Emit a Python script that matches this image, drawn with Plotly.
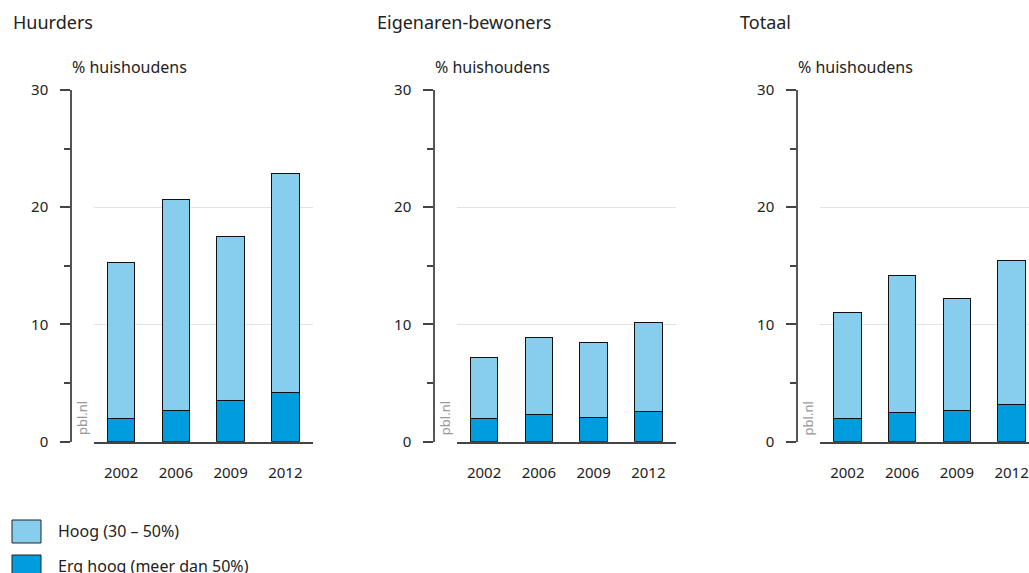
import plotly.graph_objects as go

years = ["2002", "2006", "2009", "2012"]
panels = ["Huurders", "Eigenaren-bewoners", "Totaal"]
# Erg hoog (meer dan 50%)
erg_hoog = {
    "Huurders": [2.0, 2.7, 3.5, 4.2],
    "Eigenaren-bewoners": [2.0, 2.3, 2.1, 2.55],
    "Totaal": [2.0, 2.5, 2.7, 3.2],
}
# Hoog (30 - 50%)
hoog = {
    "Huurders": [13.3, 18.0, 14.0, 18.7],
    "Eigenaren-bewoners": [5.2, 6.55, 6.4, 7.65],
    "Totaal": [9.0, 11.7, 9.55, 12.25],
}
legend_labels = ["Hoog (30 – 50%)", "Erg hoog (meer dan 50%)"]
y_ticks = [0, 10, 20, 30]

LIGHT = "#87CEEE"
DARK = "#009DDE"
FONT = "Noto Sans"

W, H = 1029, 573


def fx(x):
    return x / W


def fy(y):
    return 1 - y / H


fig = go.Figure()

plot_left = [93.7, 456.7, 820.0]
plot_right = [312.7, 675.7, 1029.0]
yaxis_x = [71, 434, 797]
y_bottom_px, y_top_px = 441.7, 90.0
ydom = [fy(y_bottom_px), fy(y_top_px)]
px_per_cat = (plot_right[0] - plot_left[0]) / 4

for i, p in enumerate(panels):
    sfx = "" if i == 0 else str(i + 1)
    fig.add_trace(go.Bar(x=years, y=erg_hoog[p], marker=dict(color=DARK, line=dict(color="#111", width=1)),
                         xaxis="x" + sfx, yaxis="y" + sfx, showlegend=False, name=legend_labels[1]))
    fig.add_trace(go.Bar(x=years, y=hoog[p], marker=dict(color=LIGHT, line=dict(color="#111", width=1)),
                         xaxis="x" + sfx, yaxis="y" + sfx, showlegend=False, name=legend_labels[0]))
    xr = [-0.5, -0.5 + (plot_right[i] - plot_left[i]) / px_per_cat]
    fig.layout["xaxis" + sfx] = dict(
        domain=[fx(plot_left[i]), min(1.0, fx(plot_right[i]))], anchor="y" + sfx, range=xr,
        showline=True, linecolor="#444", linewidth=1.5, ticks="", showgrid=False,
        tickfont=dict(family=FONT, size=15, color="#222"), ticklabelstandoff=17,
        fixedrange=True, automargin=False,
    )
    fig.layout["yaxis" + sfx] = dict(
        domain=ydom, anchor="free", position=fx(yaxis_x[i]), range=[0, 30],
        tickvals=y_ticks, ticks="outside", ticklen=10, tickcolor="#444", tickwidth=1.5,
        showline=True, linecolor="#555", linewidth=1.5,
        showgrid=True, gridcolor="#e2e2e2", gridwidth=1, zeroline=False,
        minor=dict(dtick=5, ticks="outside", ticklen=6, tickcolor="#444", tickwidth=1.5, showgrid=False),
        tickfont=dict(family=FONT, size=15, color="#222"), ticklabelstandoff=9,
        fixedrange=True, automargin=False,
    )
    fig.add_annotation(text=p, xref="paper", yref="paper", x=fx(11 + 363.5 * i), y=fy(22),
                       xanchor="left", yanchor="middle", showarrow=False,
                       font=dict(family=FONT, size=18, color="#222"))
    fig.add_annotation(text="% huishoudens", xref="paper", yref="paper", x=fx(70 + 363.2 * i), y=fy(67),
                       xanchor="left", yanchor="middle", showarrow=False,
                       font=dict(family=FONT, size=16, color="#222"))
    fig.add_annotation(text="pbl.nl", xref="paper", yref="paper", x=fx(82 + 363.2 * i), y=fy(437),
                       xanchor="center", yanchor="bottom", textangle=-90, showarrow=False,
                       font=dict(family=FONT, size=13, color="#999"))

# legend
for j, (lab, col) in enumerate(zip(legend_labels, [LIGHT, DARK])):
    top = 520 + 35 * j
    fig.add_shape(type="rect", xref="paper", yref="paper", x0=fx(12), x1=fx(41),
                  y0=fy(top + 23), y1=fy(top),
                  fillcolor=col, line=dict(color="#222", width=1))
    fig.add_annotation(text=lab, xref="paper", yref="paper", x=fx(56), y=fy(top + 11),
                       xanchor="left", yanchor="middle", showarrow=False,
                       font=dict(family=FONT, size=16, color="#222"))

fig.update_layout(
    width=W, height=H, barmode="stack", bargap=0.5,
    margin=dict(l=0, r=0, t=0, b=0, pad=0, autoexpand=False),
    paper_bgcolor="white", plot_bgcolor="white",
    showlegend=False,
)

fig.write_html(
    "out.html",
    config={"displayModeBar": False},
    post_script="document.body.style.margin='0';document.body.style.overflow='hidden';",
)
